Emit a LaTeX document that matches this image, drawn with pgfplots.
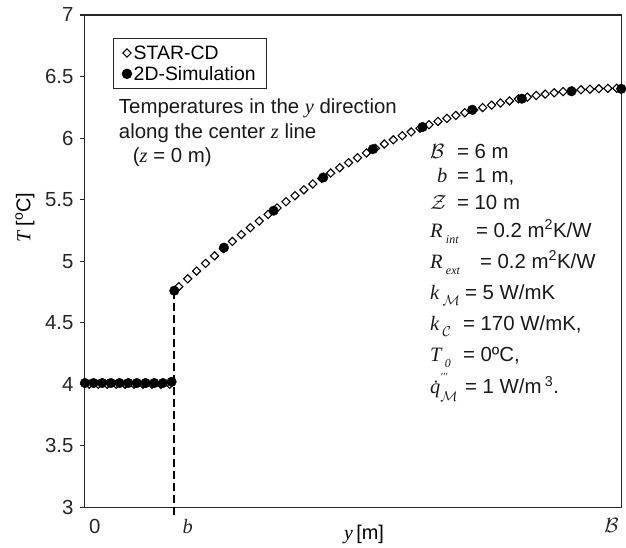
\documentclass[border=0pt]{standalone}
\usepackage{fontspec}
\setmainfont{Liberation Sans}
\newfontfamily\serif{Liberation Serif}
\usepackage{pgfplots}
\usepackage{pgfplotstable}
\pgfplotsset{compat=1.18}
\usetikzlibrary{calc}

% italic serif symbols and lowered subscripts
\newcommand{\vv}[1]{{\serif\itshape #1}}
\newcommand{\sub}[1]{\raisebox{-0.55ex}{\fontsize{12}{12}\selectfont\serif\itshape #1}}

% STAR-CD: cell-centre values along the centre line
\pgfplotstableread{
y T
0.05 4.00
0.15 4.00
0.25 4.00
0.35 4.00
0.45 4.00
0.55 4.00
0.65 4.00
0.75 4.00
0.85 4.00
0.95 4.00
1.05 4.793
1.15 4.857
1.25 4.920
1.35 4.982
1.45 5.043
1.55 5.102
1.65 5.160
1.75 5.216
1.85 5.272
1.95 5.326
2.05 5.380
2.15 5.432
2.25 5.483
2.35 5.532
2.45 5.580
2.55 5.627
2.65 5.672
2.75 5.716
2.85 5.759
2.95 5.800
3.05 5.840
3.15 5.879
3.25 5.916
3.35 5.952
3.45 5.986
3.55 6.019
3.65 6.050
3.75 6.080
3.85 6.108
3.95 6.135
4.05 6.160
4.15 6.184
4.25 6.206
4.35 6.228
4.45 6.248
4.55 6.267
4.65 6.285
4.75 6.302
4.85 6.318
4.95 6.332
5.05 6.346
5.15 6.357
5.25 6.368
5.35 6.377
5.45 6.385
5.55 6.392
5.65 6.397
5.75 6.401
5.85 6.404
5.95 6.405
}\starcd

% 2D simulation
\pgfplotstableread{
y T
0.000 4.01
0.097 4.01
0.194 4.01
0.291 4.01
0.388 4.01
0.485 4.01
0.582 4.01
0.679 4.01
0.776 4.01
0.873 4.01
0.970 4.02
1.000 4.76
1.556 5.11
2.111 5.41
2.667 5.68
3.222 5.91
3.778 6.09
4.333 6.23
4.889 6.32
5.444 6.38
6.000 6.40
}\sim

\begin{document}
\begin{tikzpicture}
\begin{axis}[
  scale only axis,
  width=537bp, height=493bp,
  xmin=0, xmax=6, ymin=3, ymax=7,
  clip=false,
  axis line style={line width=1.1bp, black!85},
  ytick={3,3.5,4,4.5,5,5.5,6,6.5,7},
  yticklabels={3,3.5,4,4.5,5,5.5,6,6.5,7},
  tick align=outside,
  ytick pos=left,
  major tick length=5bp,
  tick style={line width=1.1bp, black!85},
  xtick={0.11,1.15,5.89},
  xticklabels={0,\vv{b},$\mathcal{B}$},
  x tick style={draw=none},
  xtick pos=bottom,
  /pgf/number format/assume math mode=true,
  tick label style={font=\fontsize{20.5}{20.5}\selectfont, text=black!85},
  yticklabel style={xshift=-3bp},
  xticklabel style={yshift=-3bp},
  xlabel={\vv{y}\,[m]},
  xlabel style={font=\fontsize{20}{20}\selectfont, xshift=11bp, yshift=15bp},
  ylabel={\vv{T} [\textsuperscript{o}C]},
  ylabel style={font=\fontsize{20}{20}\selectfont, at={(rel axis cs:0,0.588)}, anchor=south, yshift=47bp},
  legend style={at={(rel axis cs:0.052,0.953)}, anchor=north west,
    draw=black!85, line width=0.8bp, font=\fontsize{19.5}{21}\selectfont,
    inner xsep=9bp, inner ysep=5bp, row sep=1.5bp},
  legend cell align=left,
  legend image code/.code={\draw[mark repeat=2,mark phase=2,#1] plot coordinates {(0bp,0bp)(8bp,0bp)(16bp,0bp)};},
]
\addplot[only marks, mark=square, mark size=2.9bp,
  mark options={rotate=45, fill=white, draw=black, line width=1.1bp}]
  table[x=y, y=T] {\starcd};
\addlegendentry{STAR-CD}
\addplot[only marks, mark=*, mark size=4.8bp,
  mark options={fill=black, draw=black}]
  table[x=y, y=T] {\sim};
\addlegendentry{2D-Simulation}

% interface between the two regions
\draw[line width=2bp, dash pattern=on 8bp off 4bp] (axis cs:1,2.94) -- (axis cs:1,4.76);

% description of the profile
\begin{scope}[every node/.style={anchor=west, inner sep=0pt, font=\fontsize{20.5}{22}\selectfont, text=black!90}]
\node at (axis cs:0.379,6.245) {Temperatures in the \vv{y} direction};
\node at (axis cs:0.379,6.043) {along the center \vv{z} line};
\node at (axis cs:0.535,5.848) {(\vv{z} = 0 m)};

% parameters
\node at (axis cs:3.86,5.888) {\makebox[27bp][l]{$\mathcal{B}$}= 6 m};
\node at (axis cs:3.86,5.686) {\makebox[27bp][l]{\hspace{7bp}\vv{b}}= 1 m,};
\node at (axis cs:3.86,5.475) {\makebox[27bp][l]{$\mathcal{Z}$}= 10 m};
\node at (axis cs:3.86,5.239) {\makebox[46bp][l]{\vv{R}\,\sub{int}}= 0.2 m\textsuperscript{2}K/W};
\node at (axis cs:3.86,4.988) {\makebox[50bp][l]{\vv{R}\,\sub{ext}}= 0.2 m\textsuperscript{2}K/W};
\node at (axis cs:3.86,4.728) {\makebox[35bp][l]{\vv{k}\,\raisebox{-0.55ex}{$\scriptstyle\mathcal{M}$}}= 5 W/mK};
\node at (axis cs:3.86,4.469) {\makebox[33bp][l]{\vv{k}\,\raisebox{-0.55ex}{$\scriptstyle\mathcal{C}$}}= 170 W/mK,};
\node at (axis cs:3.86,4.217) {\makebox[33bp][l]{\vv{T}\,\sub{0}}= 0ºC,};
\node at (axis cs:3.86,3.974) {\makebox[35bp][l]{\vv{\.q}\rlap{\raisebox{1.2ex}{\fontsize{11}{11}\selectfont\serif\itshape '''}}\raisebox{-0.7ex}{$\scriptstyle\mathcal{M}$}}= 1 W/m\,\textsuperscript{3}.};
\end{scope}

% page frame
\path ($(rel axis cs:0,0)+(-85bp,-38bp)$) rectangle ($(rel axis cs:1,1)+(4bp,15bp)$);
\end{axis}
\end{tikzpicture}
\end{document}
